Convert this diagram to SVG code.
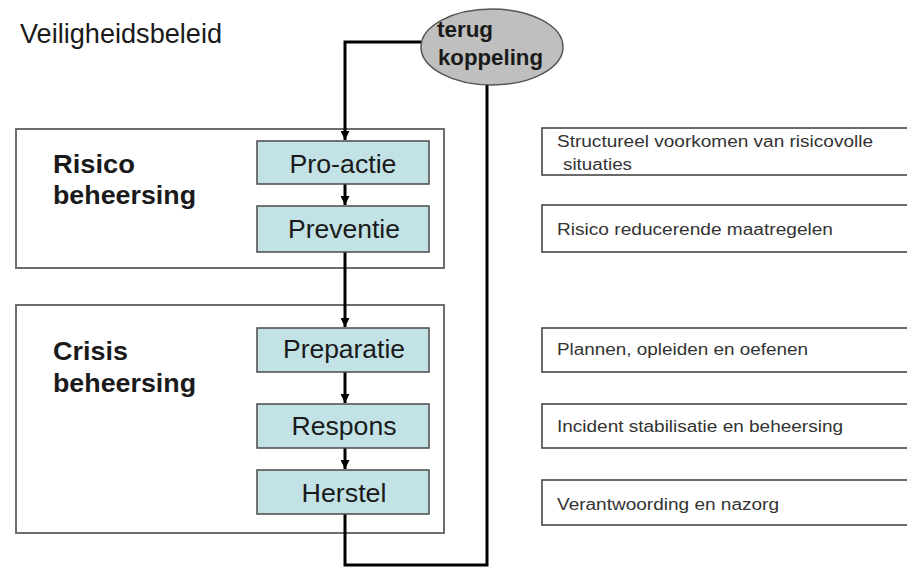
<svg xmlns="http://www.w3.org/2000/svg" width="907" height="567" viewBox="0 0 907 567">
  <style>
    .frame { fill: #ffffff; stroke: #6e6e6e; stroke-width: 2; }
    .step { fill: #c2e2e5; stroke: #4a4a4a; stroke-width: 1.5; }
    .note { fill: #ffffff; stroke: #474747; stroke-width: 1.6; }
    .wire { fill: none; stroke: #000000; stroke-width: 3; }
    .title { font-family: "Liberation Sans", Arial, sans-serif; font-size: 27px; fill: #1a1a1a; }
    .group { font-family: "Liberation Sans", Arial, sans-serif; font-size: 25px; font-weight: bold; fill: #1a1a1a; }
    .label { font-family: "Liberation Sans", Arial, sans-serif; font-size: 25px; fill: #1a1a1a; text-anchor: middle; }
    .fb { font-family: "Liberation Sans", Arial, sans-serif; font-size: 22px; font-weight: bold; fill: #1a1a1a; }
    .desc { font-family: "Liberation Sans", Arial, sans-serif; font-size: 16px; fill: #333333; }
  </style>
  <defs>
    <marker id="arrow" viewBox="0 0 10 10" refX="10" refY="5" markerWidth="3" markerHeight="3" orient="auto" markerUnits="strokeWidth">
      <path d="M0,0 L10,5 L0,10 z" fill="#000000"/>
    </marker>
  </defs>

  <rect width="907" height="567" fill="#ffffff"/>

  <text class="title" x="20" y="43" textLength="202" lengthAdjust="spacingAndGlyphs">Veiligheidsbeleid</text>

  <!-- phase frames -->
  <g id="risicobeheersing">
    <rect class="frame" x="16" y="129" width="428" height="139"/>
    <text class="group" x="53" y="173" textLength="82" lengthAdjust="spacingAndGlyphs">Risico</text>
    <text class="group" x="53" y="204" textLength="143" lengthAdjust="spacingAndGlyphs">beheersing</text>
  </g>
  <g id="crisisbeheersing">
    <rect class="frame" x="16" y="305" width="428" height="228"/>
    <text class="group" x="53" y="360" textLength="75" lengthAdjust="spacingAndGlyphs">Crisis</text>
    <text class="group" x="53" y="392" textLength="143" lengthAdjust="spacingAndGlyphs">beheersing</text>
  </g>

  <!-- connectors -->
  <g id="connectors">
    <polyline class="wire" points="421,42 345,42 345,140" marker-end="url(#arrow)"/>
    <line class="wire" x1="345" y1="184" x2="345" y2="205" marker-end="url(#arrow)"/>
    <line class="wire" x1="345" y1="252" x2="345" y2="327" marker-end="url(#arrow)"/>
    <line class="wire" x1="345" y1="372" x2="345" y2="403" marker-end="url(#arrow)"/>
    <line class="wire" x1="345" y1="448" x2="345" y2="469" marker-end="url(#arrow)"/>
    <polyline class="wire" points="345,514 345,565 487,565 487,84"/>
  </g>

  <!-- process steps -->
  <g id="pro-actie">
    <rect class="step" x="257" y="141" width="172" height="43"/>
    <text class="label" x="343" y="173" textLength="107" lengthAdjust="spacingAndGlyphs">Pro-actie</text>
  </g>
  <g id="preventie">
    <rect class="step" x="257" y="206" width="172" height="46"/>
    <text class="label" x="344" y="238" textLength="112" lengthAdjust="spacingAndGlyphs">Preventie</text>
  </g>
  <g id="preparatie">
    <rect class="step" x="257" y="328" width="172" height="44"/>
    <text class="label" x="344" y="358" textLength="122" lengthAdjust="spacingAndGlyphs">Preparatie</text>
  </g>
  <g id="respons">
    <rect class="step" x="257" y="404" width="172" height="44"/>
    <text class="label" x="344" y="435" textLength="105" lengthAdjust="spacingAndGlyphs">Respons</text>
  </g>
  <g id="herstel">
    <rect class="step" x="257" y="470" width="172" height="44"/>
    <text class="label" x="344" y="502" textLength="85" lengthAdjust="spacingAndGlyphs">Herstel</text>
  </g>

  <!-- feedback loop -->
  <g id="terugkoppeling">
    <ellipse cx="492" cy="47" rx="71" ry="38" fill="#bfbfbf" stroke="#555555" stroke-width="1.5"/>
    <text class="fb" x="437" y="37" textLength="56" lengthAdjust="spacingAndGlyphs">terug</text>
    <text class="fb" x="438" y="65" textLength="105" lengthAdjust="spacingAndGlyphs">koppeling</text>
  </g>

  <!-- descriptions -->
  <g id="desc-pro-actie">
    <rect class="note" x="542" y="128" width="380" height="47"/>
    <text class="desc" x="557" y="147" textLength="316" lengthAdjust="spacingAndGlyphs">Structureel voorkomen van risicovolle</text>
    <text class="desc" x="563" y="170" textLength="69" lengthAdjust="spacingAndGlyphs">situaties</text>
  </g>
  <g id="desc-preventie">
    <rect class="note" x="542" y="205" width="380" height="47"/>
    <text class="desc" x="557" y="235" textLength="276" lengthAdjust="spacingAndGlyphs">Risico reducerende maatregelen</text>
  </g>
  <g id="desc-preparatie">
    <rect class="note" x="542" y="328" width="380" height="44"/>
    <text class="desc" x="557" y="355" textLength="251" lengthAdjust="spacingAndGlyphs">Plannen, opleiden en oefenen</text>
  </g>
  <g id="desc-respons">
    <rect class="note" x="542" y="404" width="380" height="44"/>
    <text class="desc" x="557" y="432" textLength="286" lengthAdjust="spacingAndGlyphs">Incident stabilisatie en beheersing</text>
  </g>
  <g id="desc-herstel">
    <rect class="note" x="542" y="480" width="380" height="45"/>
    <text class="desc" x="557" y="510" textLength="222" lengthAdjust="spacingAndGlyphs">Verantwoording en nazorg</text>
  </g>
</svg>
